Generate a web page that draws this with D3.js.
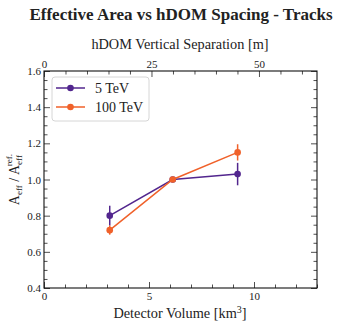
<!DOCTYPE html>
<html>
<head>
<meta charset="utf-8">
<script src="https://cdn.jsdelivr.net/npm/d3@7"></script>
<style>
  body { margin: 0; background: #fff; }
  svg text { font-family: "Liberation Serif", "DejaVu Serif", serif; fill: #222; }
</style>
</head>
<body>
<svg class="chart" width="349" height="327"></svg>
<script>
const series = ["5 TeV", "100 TeV"];
const colors = ["#52268e", "#f0612a"];
const volume = [3.13, 6.13, 9.22];
const effArea = [
  [0.80, 1.00, 1.03],
  [0.72, 1.00, 1.15],
];
const effErr = [
  [0.055, 0.0, 0.062],
  [0.025, 0.0, 0.045],
];
const xTicks = [0, 5, 10];
const topTicks = [0, 25, 50];
const yTicks = [0.4, 0.6, 0.8, 1.0, 1.2, 1.4, 1.6];

const W = 349, H = 327;
const m = { left: 44, right: 32, top: 71, bottom: 39 };
const width = W - m.left - m.right;
const height = H - m.top - m.bottom;

const svg = d3.select(".chart");
const g = svg.append("g").attr("transform", `translate(${m.left},${m.top})`);

const x = d3.scaleLinear().domain([0, 13]).range([0, width]);
const xTop = d3.scaleLinear().domain([0, 63.5]).range([0, width]);
const y = d3.scaleLinear().domain([0.4, 1.6]).range([height, 0]);

const major = 6, minor = 3.5;
function styleAxis(sel) {
  sel.select(".domain").remove();
  sel.selectAll("line").attr("stroke", "#222").attr("stroke-width", 0.8);
  sel.selectAll("text").attr("font-size", 11).attr("fill", "#333");
}

// bottom
g.append("g").attr("transform", `translate(0,${height})`)
  .call(d3.axisBottom(x).tickValues(xTicks).tickSizeInner(-major).tickPadding(4).tickFormat(d3.format("d")))
  .call(styleAxis);
g.append("g").attr("transform", `translate(0,${height})`)
  .call(d3.axisBottom(x).tickValues(d3.range(0, 13.01, 1).filter(v => v % 5)).tickSizeInner(-minor).tickFormat(""))
  .call(styleAxis);
// top
g.append("g")
  .call(d3.axisTop(xTop).tickValues(topTicks).tickSizeInner(-major).tickPadding(3).tickFormat(d3.format("d")))
  .call(styleAxis);
g.append("g")
  .call(d3.axisTop(xTop).tickValues(d3.range(0, 63.5, 5).filter(v => v % 25)).tickSizeInner(-minor).tickFormat(""))
  .call(styleAxis);
// left
const minorY = d3.range(0.45, 1.6, 0.05).filter(v => Math.abs(v * 10 - Math.round(v * 10)) > 0.1 || Math.round(v * 10) % 2);
g.append("g")
  .call(d3.axisLeft(y).tickValues(yTicks).tickSizeInner(-major).tickPadding(3).tickFormat(d3.format(".1f")))
  .call(styleAxis);
g.append("g")
  .call(d3.axisLeft(y).tickValues(minorY).tickSizeInner(-minor).tickFormat(""))
  .call(styleAxis);
// right
g.append("g").attr("transform", `translate(${width},0)`)
  .call(d3.axisRight(y).tickValues(yTicks).tickSizeInner(-major).tickFormat(""))
  .call(styleAxis);
g.append("g").attr("transform", `translate(${width},0)`)
  .call(d3.axisRight(y).tickValues(minorY).tickSizeInner(-minor).tickFormat(""))
  .call(styleAxis);

g.append("rect").attr("width", width).attr("height", height)
  .attr("fill", "none").attr("stroke", "#111").attr("stroke-width", 1.1);

// series
const line = d3.line().x(d => x(d[0])).y(d => y(d[1]));
series.forEach((s, i) => {
  const pts = volume.map((v, j) => [v, effArea[i][j], effErr[i][j]]);
  const sg = g.append("g");
  sg.selectAll("line.err").data(pts.filter(p => p[2] > 0)).join("line")
    .attr("x1", d => x(d[0])).attr("x2", d => x(d[0]))
    .attr("y1", d => y(d[1] - d[2])).attr("y2", d => y(d[1] + d[2]))
    .attr("stroke", colors[i]).attr("stroke-width", 1.5);
  sg.append("path").datum(pts).attr("d", line)
    .attr("fill", "none").attr("stroke", colors[i]).attr("stroke-width", 1.5);
  sg.selectAll("circle").data(pts).join("circle")
    .attr("cx", d => x(d[0])).attr("cy", d => y(d[1])).attr("r", 3.3)
    .attr("fill", colors[i]);
});

// legend
const lg = g.append("g").attr("transform", "translate(8,6)");
lg.append("rect").attr("width", 97).attr("height", 44).attr("rx", 3)
  .attr("fill", "#fff").attr("fill-opacity", 0.8).attr("stroke", "#ccc").attr("stroke-width", 0.8);
series.forEach((s, i) => {
  const row = lg.append("g").attr("transform", `translate(0,${11 + i * 19})`);
  row.append("line").attr("x1", 4).attr("x2", 33).attr("stroke", colors[i]).attr("stroke-width", 1.5);
  row.append("circle").attr("cx", 18.5).attr("r", 3.3).attr("fill", colors[i]);
  row.append("text").attr("x", 43).attr("dy", "0.35em").attr("font-size", 14).text(s);
});

// titles
svg.append("text").attr("x", 181).attr("y", 20).attr("text-anchor", "middle")
  .attr("font-size", 17).attr("font-weight", "bold").text("Effective Area vs hDOM Spacing - Tracks");
svg.append("text").attr("x", 180).attr("y", 49).attr("text-anchor", "middle")
  .attr("font-size", 14.3).text("hDOM Vertical Separation [m]");
const xl = svg.append("text").attr("x", 180).attr("y", 318).attr("text-anchor", "middle").attr("font-size", 14.3);
xl.append("tspan").text("Detector Volume [km");
xl.append("tspan").attr("font-size", 10).attr("dy", -5).text("3");
xl.append("tspan").attr("dy", 5).text("]");

const yl = svg.append("text").attr("transform", `translate(19,${m.top + height / 2}) rotate(-90)`)
  .attr("text-anchor", "middle").attr("font-size", 14);
yl.append("tspan").text("A");
yl.append("tspan").attr("font-size", 9).attr("dy", 3).text("eff");
yl.append("tspan").attr("dy", -3).text(" / A");
yl.append("tspan").attr("font-size", 9).attr("dy", 3).text("eff");
yl.append("tspan").attr("font-size", 9).attr("dx", -11).attr("dy", -10).text("ref.");
</script>
</body>
</html>
